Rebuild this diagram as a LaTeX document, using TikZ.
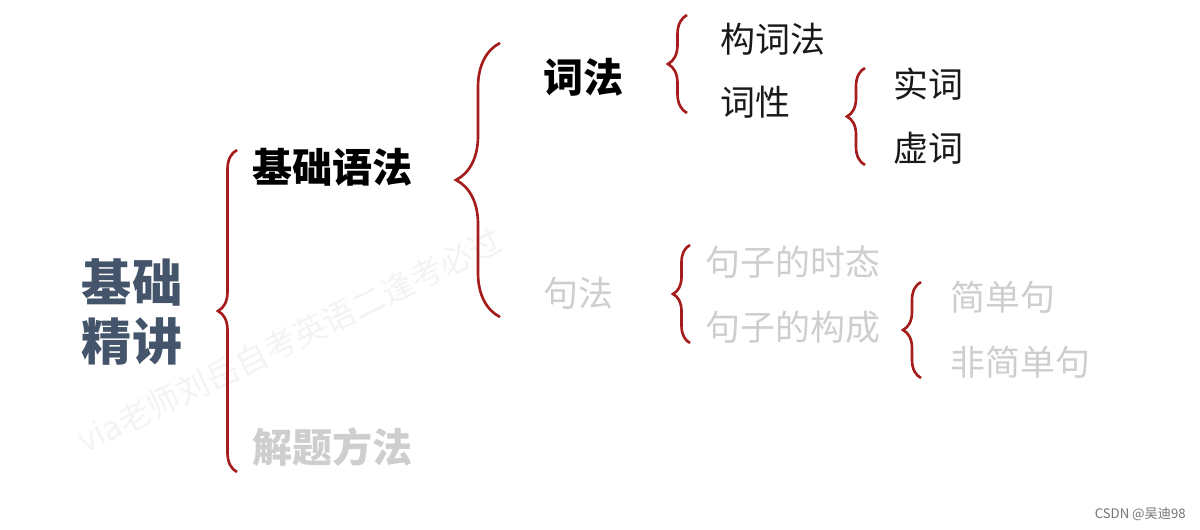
\documentclass[tikz,border=0pt]{standalone}
\usepackage{fontspec}
\newfontfamily\cjk{Noto Sans CJK SC}
\usetikzlibrary{decorations.pathreplacing}
\definecolor{bracered}{RGB}{165,28,28}
\definecolor{slate}{RGB}{68,84,106}
\definecolor{faint}{RGB}{206,206,206}
\definecolor{wmark}{RGB}{243,243,243}
\tikzset{
  bracket/.style={draw=bracered,line width=1.5pt,decorate,decoration={brace,amplitude=#1}},
  head/.style={font=\cjk\bfseries\fontsize{22.8}{26}\selectfont,inner sep=0pt,anchor=west},
  leaf/.style={font=\cjk\fontsize{19.9}{24}\selectfont,inner sep=0pt,anchor=west,text=black!90},
  faded/.style={text=faint},
}

\begin{document}
\begin{tikzpicture}[x=0.02cm,y=-0.02cm]
\useasboundingbox (0,0) rectangle (1200,530);
\node[font=\cjk\fontsize{18.5}{20}\selectfont,text=wmark,rotate=26,inner sep=0pt] (watermark) at (290,340){via老师刘岳自考英语二逢考必过};
\node[font=\cjk\bfseries\fontsize{28.5}{34}\selectfont,text=slate,align=center,inner sep=0pt] (root) at (132,312){基础\\精讲};
\draw[bracket=0.38cm] (237,472) -- (237,150);
\node[head] (jichu) at (252,167){基础语法};
\node[head,text=faint] (jieti) at (252,447){解题方法};
\draw[bracket=0.88cm] (500,317) -- (500,43);
\node[head] (cifa) at (543,77){词法};
\node[leaf,faded] (jufa) at (543,293){句法};
\draw[bracket=0.38cm] (687,113) -- (687,15);
\node[leaf] (gouci) at (720,39){构词法};
\node[leaf] (cixing) at (720,102){词性};
\draw[bracket=0.36cm] (865,165) -- (865,68);
\node[leaf] (shici) at (893,84){实词};
\node[leaf] (xuci) at (893,148){虚词};
\draw[bracket=0.34cm] (690,343) -- (690,245);
\node[leaf,faded] (shitai) at (705,262){句子的时态};
\node[leaf,faded] (goucheng) at (705,327){句子的构成};
\draw[bracket=0.36cm] (921,378) -- (921,282);
\node[leaf,faded] (jiandan) at (950,297){简单句};
\node[leaf,faded] (feijiandan) at (950,362){非简单句};
\node[font=\cjk\fontsize{7.5}{9}\selectfont,text=black!55,inner sep=0pt,anchor=east] (csdn) at (1186,514){CSDN @吴迪98};
\end{tikzpicture}
\end{document}
